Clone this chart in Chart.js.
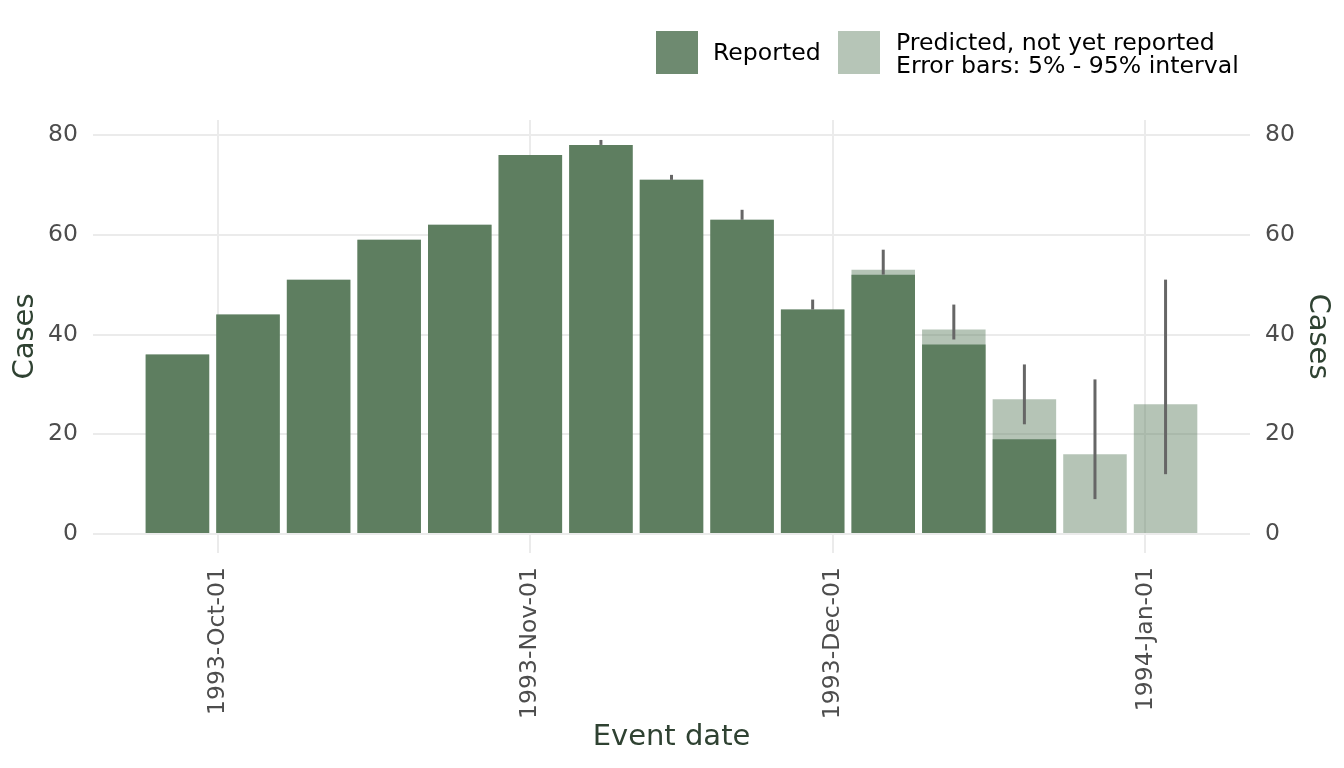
<!DOCTYPE html>
<html>
<head>
<meta charset="utf-8">
<script src="https://cdn.jsdelivr.net/npm/chart.js@4.4.1/dist/chart.umd.min.js"></script>
<style>
  html, body { margin: 0; padding: 0; background: #ffffff; }
  #wrap { position: relative; width: 1344px; height: 768px; }
  #c { position: absolute; left: 0; top: 0; }
  .sw { position: absolute; width: 42px; height: 43px; }
  .lt { position: absolute; font-family: 'DejaVu Sans', sans-serif; font-size: 23.6px; color: #000; white-space: nowrap; }
</style>
</head>
<body>
<div id="wrap">
  <canvas id="c" width="1344" height="768"></canvas>
  <div class="sw" style="left:656px; top:31px; background:#6e8a70;"></div>
  <div class="lt" style="left:713px; top:41px; line-height:23.6px;">Reported</div>
  <div class="sw" style="left:838px; top:31px; background:#b6c5b7;"></div>
  <div class="lt" style="left:896px; top:30.5px; line-height:23.6px;">Predicted, not yet reported<br>Error bars: 5% - 95% interval</div>
</div>
<script>
// ---- data ----
const weeks = ['1993-09-27','1993-10-04','1993-10-11','1993-10-18','1993-10-25','1993-11-01','1993-11-08',
               '1993-11-15','1993-11-22','1993-11-29','1993-12-06','1993-12-13','1993-12-20','1993-12-27','1994-01-03'];
const reported  = [36, 44, 51, 59, 62, 76, 78, 71, 63, 45, 52, 38, 19, 0, 0];
const predicted = [36, 44, 51, 59, 62, 76, 78, 71, 63, 45, 53, 41, 27, 16, 26];
const errLow    = [null, null, null, null, null, null, 78, 71, 63, 45, 52, 39, 22, 7, 12];
const errHigh   = [null, null, null, null, null, null, 79, 72, 65, 47, 57, 46, 34, 31, 51];
const xTickDates  = ['1993-10-01','1993-11-01','1993-12-01','1994-01-01'];
const xTickLabels = ['1993-Oct-01','1993-Nov-01','1993-Dec-01','1994-Jan-01'];
const yTicks = [0, 20, 40, 60, 80];
const xLimits = ['1993-09-18T15:00:00Z', '1994-01-11T09:00:00Z'];
const yLimits = [-3.8, 83.0];

// ---- helpers ----
const DAY = 86400000;
const toDay = s => Date.parse(s.length === 10 ? s + 'T00:00:00Z' : s) / DAY;
const xs = weeks.map(toDay);
const xTickVals = xTickDates.map(toDay);

const DARK = '#5e7e60';
const LIGHT = 'rgba(94,126,96,0.46)';
const ERR = '#666666';
const TITLE = '#2f4232';
const TICK = '#4d4d4d';
const GRID = '#ebebeb';

Chart.defaults.font.family = "'DejaVu Sans', sans-serif";

const ctx = document.getElementById('c');
new Chart(ctx, {
  type: 'bar',
  data: {
    datasets: [
      {
        label: 'Error bars',
        data: xs.map((x, i) => ({ x: x, y: errLow[i] === null ? null : [errLow[i], errHigh[i]] })),
        backgroundColor: ERR,
        grouped: false,
        maxBarThickness: 3,
        order: 0
      },
      {
        label: 'Reported',
        data: xs.map((x, i) => ({ x: x, y: reported[i] })),
        backgroundColor: DARK,
        grouped: false,
        barPercentage: 0.9,
        categoryPercentage: 1.0,
        order: 1
      },
      {
        label: 'Predicted, not yet reported',
        data: xs.map((x, i) => ({ x: x, y: predicted[i] })),
        backgroundColor: LIGHT,
        grouped: false,
        barPercentage: 0.9,
        categoryPercentage: 1.0,
        order: 2
      }
    ]
  },
  options: {
    responsive: false,
    animation: false,
    layout: { padding: { top: 120, left: 0, right: 0, bottom: 0 } },
    plugins: { legend: { display: false }, tooltip: { enabled: false } },
    scales: {
      x: {
        type: 'linear',
        offset: false,
        min: toDay(xLimits[0]),
        max: toDay(xLimits[1]),
        grid: { offset: false, color: GRID, lineWidth: 2, drawTicks: false },
        border: { display: false },
        afterBuildTicks: s => { s.ticks = xTickVals.map(v => ({ value: v })); },
        afterFit: s => { s.height = 215; },
        ticks: {
          autoSkip: false,
          minRotation: 90,
          maxRotation: 90,
          padding: 14,
          color: TICK,
          font: { size: 23.5 },
          callback: (v, i) => xTickLabels[i]
        },
        title: { display: true, text: 'Event date', color: TITLE, font: { size: 29 }, padding: { top: 0, bottom: 13.6 } }
      },
      y: {
        type: 'linear',
        position: 'left',
        min: yLimits[0],
        max: yLimits[1],
        grid: { color: GRID, lineWidth: 2, drawTicks: false },
        border: { display: false },
        afterBuildTicks: s => { s.ticks = yTicks.map(v => ({ value: v })); },
        afterFit: s => { s.width = 93; },
        ticks: { padding: 15, color: TICK, font: { size: 23.5 }, callback: v => String(v) },
        title: { display: true, text: 'Cases', color: TITLE, font: { size: 29 }, padding: { top: 7.6, bottom: 0 } }
      },
      y2: {
        type: 'linear',
        position: 'right',
        min: yLimits[0],
        max: yLimits[1],
        grid: { display: false, drawTicks: false },
        border: { display: false },
        afterBuildTicks: s => { s.ticks = yTicks.map(v => ({ value: v })); },
        afterFit: s => { s.width = 94; },
        ticks: { padding: 15, color: TICK, font: { size: 23.5 }, callback: v => String(v) },
        title: { display: true, text: 'Cases', color: TITLE, font: { size: 29 }, padding: { top: 8.8, bottom: 0 } }
      }
    }
  }
});
</script>
</body>
</html>
